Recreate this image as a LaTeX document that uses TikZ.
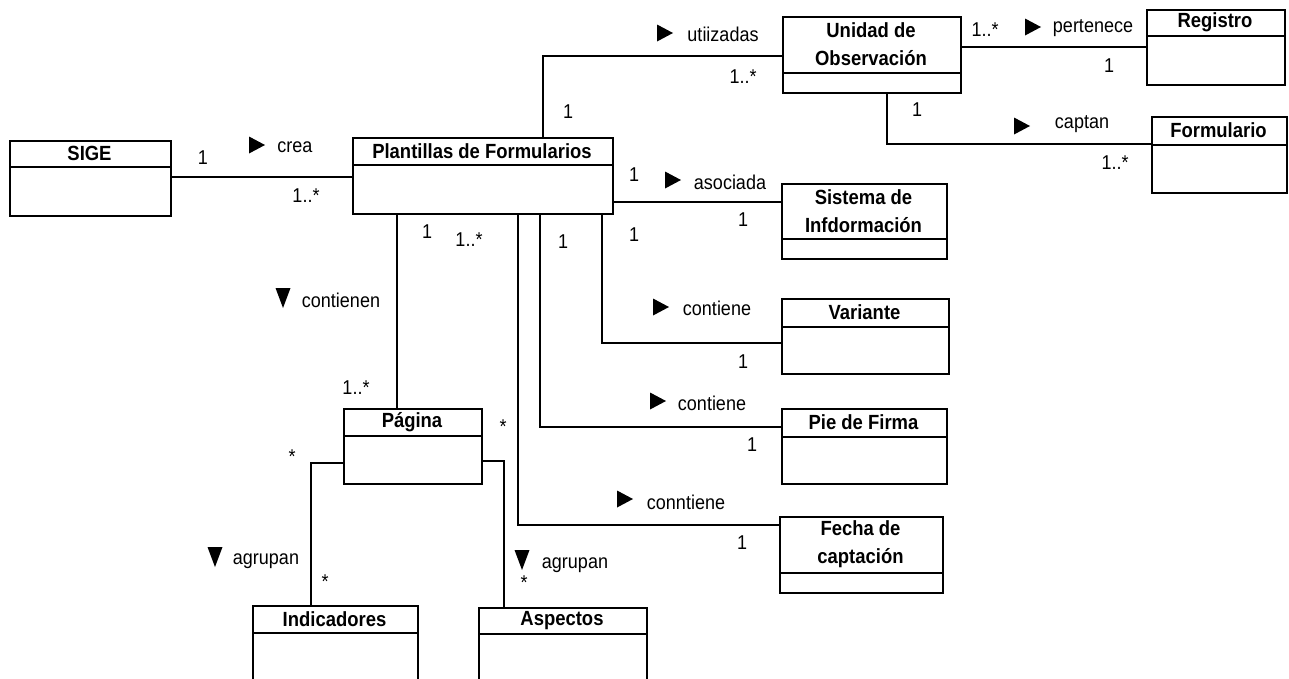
\documentclass[tikz,border=0pt]{standalone}
\usepackage{fontspec}
\setmainfont{Liberation Sans}[FakeStretch=0.9]
\tikzset{
  box/.style={draw, line width=1.5pt, inner sep=0pt},
  conn/.style={line width=1.5pt},
  ttl/.style={font=\fontsize{20.5}{28}\selectfont\bfseries, align=center, inner sep=0pt},
  lbl/.style={font=\fontsize{20}{22}\selectfont, inner sep=0pt},
  rtri/.pic={\fill (0,-8.5) -- (16,0) -- (0,8.5) -- cycle;},
  dtri/.pic={\fill (-7.5,-10) -- (7.5,-10) -- (0,10) -- cycle;}
}
\newcommand\umlcls[7]{%
  \node[box, minimum width={(#4-#2)*1pt}, minimum height={(#5-#3)*1pt}, anchor=north west] (#1) at (#2,#3) {};
  \draw[conn] (#2,#6) -- (#4,#6);
  \node[ttl] (#1-t) at ({(#2+#4)/2},{(#3+#6)/2}) {#7};
}
\begin{document}
\begin{tikzpicture}[x=1pt,y=-1pt]
\path[use as bounding box, fill=white] (0,0) rectangle (1289,678);
\clip (0,0) rectangle (1289,678);

% classes
\umlcls{sige}{9}{140}{170}{215}{167}{SIGE}
\umlcls{plant}{352}{137}{612}{213}{165}{Plantillas de Formularios}
\umlcls{unidad}{782}{16}{960}{92}{73}{Unidad de\\Observación}
\umlcls{registro}{1146}{9}{1284}{84}{36}{Registro}
\umlcls{formulario}{1151}{116}{1286}{192}{145}{Formulario}
\umlcls{sistema}{781}{183}{946}{258}{239}{Sistema de\\Infdormación}
\umlcls{variante}{781}{298}{948}{373}{327}{Variante}
\umlcls{pie}{781}{408}{946}{483}{437}{Pie de Firma}
\umlcls{fecha}{779}{516}{942}{592}{573}{Fecha de\\captación}
\umlcls{pagina}{343}{408}{481}{483}{436}{Página}
\umlcls{indicadores}{252}{605}{417}{700}{633}{Indicadores}
\umlcls{aspectos}{478}{607}{646}{700}{634}{Aspectos}

% connectors
\draw[conn] (sige.east |- 0,177) -- (plant.west |- 0,177);
\draw[conn] (plant.north -| 543,0) |- (unidad.west |- 0,56);
\draw[conn] (unidad.east |- 0,47) -- (registro.west |- 0,47);
\draw[conn] (unidad.south -| 887,0) |- (formulario.west |- 0,144);
\draw[conn] (plant.east |- 0,202) -- (sistema.west |- 0,202);
\draw[conn] (plant.south -| 602,0) |- (variante.west |- 0,343);
\draw[conn] (plant.south -| 540,0) |- (pie.west |- 0,427);
\draw[conn] (plant.south -| 518,0) |- (fecha.west |- 0,525);
\draw[conn] (plant.south -| 397,0) -- (pagina.north -| 397,0);
\draw[conn] (pagina.west |- 0,463) -| (indicadores.north -| 311,0);
\draw[conn] (pagina.east |- 0,461) -| (aspectos.north -| 504,0);

% SIGE - Plantillas
\node[lbl] (m1) at (203,158) {1};
\pic at (249,145) {rtri};
\node[lbl] (n1) at (295,147) {crea};
\node[lbl] (m2) at (306,196) {1..*};
% Plantillas - Unidad
\pic at (657,33) {rtri};
\node[lbl] (n2) at (723,34) {utiizadas};
\node[lbl] (m3) at (743,77) {1..*};
\node[lbl] (m4) at (568,112) {1};
% Unidad - Registro
\node[lbl] (m5) at (985,30) {1..*};
\pic at (1025,27) {rtri};
\node[lbl] (n3) at (1093,28) {pertenece};
\node[lbl] (m6) at (1109,66) {1};
% Unidad - Formulario
\node[lbl] (m7) at (917,110) {1};
\pic at (1014,126) {rtri};
\node[lbl] (n4) at (1082,124) {captan};
\node[lbl] (m8) at (1115,163) {1..*};
% Plantillas - Sistema
\node[lbl] (m9) at (634,175) {1};
\pic at (665,180) {rtri};
\node[lbl] (n5) at (730,182) {asociada};
\node[lbl] (m10) at (743,220) {1};
% Plantillas bottom
\node[lbl] (m11) at (427,232) {1};
\node[lbl] (m12) at (469,240) {1..*};
\node[lbl] (m13) at (563,242) {1};
\node[lbl] (m14) at (634,235) {1};
% contienen
\pic at (283,298) {dtri};
\node[lbl] (n6) at (341,300) {contienen};
% Variante
\pic at (653,307) {rtri};
\node[lbl] (n7) at (717,308) {contiene};
\node[lbl] (m15) at (743,362) {1};
% Pie
\pic at (650,401) {rtri};
\node[lbl] (n8) at (712,403) {contiene};
\node[lbl] (m16) at (752,445) {1};
% Fecha
\pic at (617,499) {rtri};
\node[lbl] (n9) at (686,502) {conntiene};
\node[lbl] (m17) at (742,543) {1};
% Pagina
\node[lbl] (m18) at (356,388) {1..*};
\node[lbl] (m19) at (503,427) {*};
\node[lbl] (m20) at (292,457) {*};
\node[lbl] (m21) at (325,582) {*};
\pic at (215,557) {dtri};
\node[lbl] (n10) at (266,561) {agrupan};
\pic at (522,560) {dtri};
\node[lbl] (n11) at (575,565) {agrupan};
\node[lbl] (m22) at (524,583) {*};
\end{tikzpicture}
\end{document}
